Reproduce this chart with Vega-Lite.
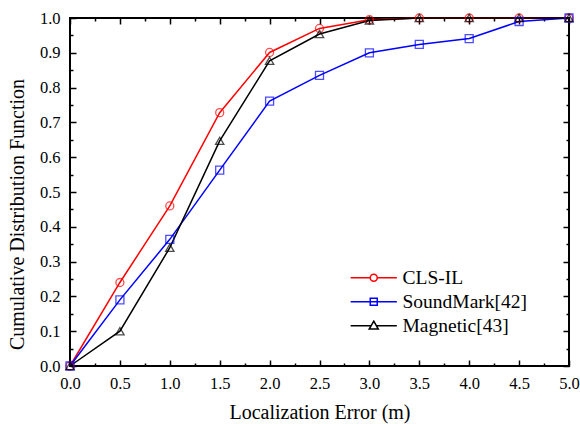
{
  "$schema": "https://vega.github.io/schema/vega-lite/v6.json",
  "width": 499,
  "height": 348,
  "autosize": {"type": "none"},
  "padding": {"left": 70, "top": 18, "right": 11, "bottom": 58},
  "background": "white",
  "config": {
    "view": {"stroke": "black", "strokeWidth": 2},
    "font": "Liberation Serif",
    "axis": {
      "domain": false,
      "grid": false,
      "tickColor": "black",
      "tickWidth": 1.5,
      "labelColor": "black",
      "labelFont": "Liberation Serif",
      "labelFontSize": 16.5,
      "titleFont": "Liberation Serif",
      "titleFontSize": 20,
      "titleFontWeight": "normal",
      "titleColor": "black",
      "labelFlush": false,
      "labelOverlap": false
    }
  },
  "data": {
    "values": [
      {"err": 0, "cdf": 0, "series": "CLS-IL"},
      {"err": 0.5, "cdf": 0.24, "series": "CLS-IL"},
      {"err": 1.0, "cdf": 0.46, "series": "CLS-IL"},
      {"err": 1.5, "cdf": 0.728, "series": "CLS-IL"},
      {"err": 2.0, "cdf": 0.901, "series": "CLS-IL"},
      {"err": 2.5, "cdf": 0.97, "series": "CLS-IL"},
      {"err": 3.0, "cdf": 0.995, "series": "CLS-IL"},
      {"err": 3.5, "cdf": 1.0, "series": "CLS-IL"},
      {"err": 4.0, "cdf": 1.0, "series": "CLS-IL"},
      {"err": 4.5, "cdf": 1.0, "series": "CLS-IL"},
      {"err": 5.0, "cdf": 1.0, "series": "CLS-IL"},
      {"err": 0, "cdf": 0, "series": "SoundMark[42]"},
      {"err": 0.5, "cdf": 0.19, "series": "SoundMark[42]"},
      {"err": 1.0, "cdf": 0.364, "series": "SoundMark[42]"},
      {"err": 1.5, "cdf": 0.563, "series": "SoundMark[42]"},
      {"err": 2.0, "cdf": 0.761, "series": "SoundMark[42]"},
      {"err": 2.5, "cdf": 0.835, "series": "SoundMark[42]"},
      {"err": 3.0, "cdf": 0.9, "series": "SoundMark[42]"},
      {"err": 3.5, "cdf": 0.924, "series": "SoundMark[42]"},
      {"err": 4.0, "cdf": 0.941, "series": "SoundMark[42]"},
      {"err": 4.5, "cdf": 0.99, "series": "SoundMark[42]"},
      {"err": 5.0, "cdf": 1.0, "series": "SoundMark[42]"},
      {"err": 0, "cdf": 0, "series": "Magnetic[43]"},
      {"err": 0.5, "cdf": 0.10, "series": "Magnetic[43]"},
      {"err": 1.0, "cdf": 0.34, "series": "Magnetic[43]"},
      {"err": 1.5, "cdf": 0.647, "series": "Magnetic[43]"},
      {"err": 2.0, "cdf": 0.877, "series": "Magnetic[43]"},
      {"err": 2.5, "cdf": 0.954, "series": "Magnetic[43]"},
      {"err": 3.0, "cdf": 0.993, "series": "Magnetic[43]"},
      {"err": 3.5, "cdf": 1.0, "series": "Magnetic[43]"},
      {"err": 4.0, "cdf": 1.0, "series": "Magnetic[43]"},
      {"err": 4.5, "cdf": 1.0, "series": "Magnetic[43]"},
      {"err": 5.0, "cdf": 1.0, "series": "Magnetic[43]"}
    ]
  },
  "layer": [
    {
      "mark": {"type": "line", "strokeWidth": 1.5},
      "encoding": {
        "x": {
          "field": "err", "type": "quantitative",
          "scale": {"domain": [0, 5], "nice": false, "zero": false},
          "axis": {
            "orient": "bottom",
            "values": [0, 0.25, 0.5, 0.75, 1, 1.25, 1.5, 1.75, 2, 2.25, 2.5, 2.75, 3, 3.25, 3.5, 3.75, 4, 4.25, 4.5, 4.75, 5],
            "tickSize": {"condition": {"test": "abs(datum.value*2-round(datum.value*2))<0.001", "value": -6}, "value": -3},
            "labelExpr": "abs(datum.value*2-round(datum.value*2))<0.001 ? format(datum.value,'.1f') : ''",
            "labelPadding": 15,
            "title": "Localization Error (m)",
            "titlePadding": 8
          }
        },
        "y": {
          "field": "cdf", "type": "quantitative",
          "scale": {"domain": [0, 1], "nice": false},
          "axis": {
            "orient": "left",
            "values": [0, 0.05, 0.1, 0.15, 0.2, 0.25, 0.3, 0.35, 0.4, 0.45, 0.5, 0.55, 0.6, 0.65, 0.7, 0.75, 0.8, 0.85, 0.9, 0.95, 1],
            "tickSize": {"condition": {"test": "abs(datum.value*10-round(datum.value*10))<0.001", "value": -6}, "value": -3},
            "labelExpr": "abs(datum.value*10-round(datum.value*10))<0.001 ? format(datum.value,'.1f') : ''",
            "labelPadding": 16,
            "title": "Cumulative Distribution Function",
            "titlePadding": 12,
            "titleY": 196
          }
        },
        "color": {
          "field": "series", "type": "nominal",
          "scale": {"domain": ["CLS-IL", "SoundMark[42]", "Magnetic[43]"], "range": ["#ff0000", "#0000ff", "#000000"]},
          "legend": {
            "orient": "none",
            "legendX": 294,
            "legendY": 250,
            "title": null,
            "labelFont": "Liberation Serif",
            "labelFontSize": 19.5,
            "labelColor": "black",
            "labelOffset": 19,
            "symbolSize": 49,
            "symbolStrokeWidth": 1.5,
            "symbolFillColor": "transparent",
            "rowPadding": 3,
            "padding": 0,
            "symbolType": {"expr": "datum.value === 'CLS-IL' ? 'M-6.6,0H-1M1,0H6.6M1,0A1,1,0,1,1,-1,0A1,1,0,1,1,1,0' : datum.value === 'SoundMark[42]' ? 'M-6.6,0H6.6M-1,-1H1V1H-1Z' : 'M-6.6,0H-0.7M0.7,0H6.6M0,-1.3L1.3,0.95H-1.3Z'"}
          }
        }
      }
    },
    {
      "transform": [{"filter": "datum.series === 'CLS-IL'"}],
      "mark": {"type": "point", "shape": "circle", "filled": false, "size": 64, "strokeWidth": 1.3, "color": "#ff0000"},
      "encoding": {
        "x": {
          "field": "err", "type": "quantitative",
          "axis": {
            "orient": "top",
            "values": [0, 0.25, 0.5, 0.75, 1, 1.25, 1.5, 1.75, 2, 2.25, 2.5, 2.75, 3, 3.25, 3.5, 3.75, 4, 4.25, 4.5, 4.75, 5],
            "tickSize": {"condition": {"test": "abs(datum.value*2-round(datum.value*2))<0.001", "value": -6}, "value": -3},
            "labels": false,
            "title": null
          }
        },
        "y": {
          "field": "cdf", "type": "quantitative",
          "axis": {
            "orient": "right",
            "values": [0, 0.05, 0.1, 0.15, 0.2, 0.25, 0.3, 0.35, 0.4, 0.45, 0.5, 0.55, 0.6, 0.65, 0.7, 0.75, 0.8, 0.85, 0.9, 0.95, 1],
            "tickSize": {"condition": {"test": "abs(datum.value*10-round(datum.value*10))<0.001", "value": -6}, "value": -3},
            "labels": false,
            "title": null
          }
        }
      }
    },
    {
      "transform": [{"filter": "datum.series === 'SoundMark[42]'"}],
      "mark": {"type": "point", "shape": "square", "filled": false, "size": 64, "strokeWidth": 1.3, "color": "#0000ff"},
      "encoding": {
        "x": {"field": "err", "type": "quantitative", "axis": null},
        "y": {"field": "cdf", "type": "quantitative", "axis": null}
      }
    },
    {
      "transform": [{"filter": "datum.series === 'Magnetic[43]'"}],
      "mark": {"type": "point", "shape": "triangle-up", "filled": false, "size": 70, "strokeWidth": 1.3, "color": "#000000"},
      "encoding": {
        "x": {"field": "err", "type": "quantitative", "axis": null},
        "y": {"field": "cdf", "type": "quantitative", "axis": null}
      }
    }
  ],
  "resolve": {"axis": {"x": "independent", "y": "independent"}}
}
